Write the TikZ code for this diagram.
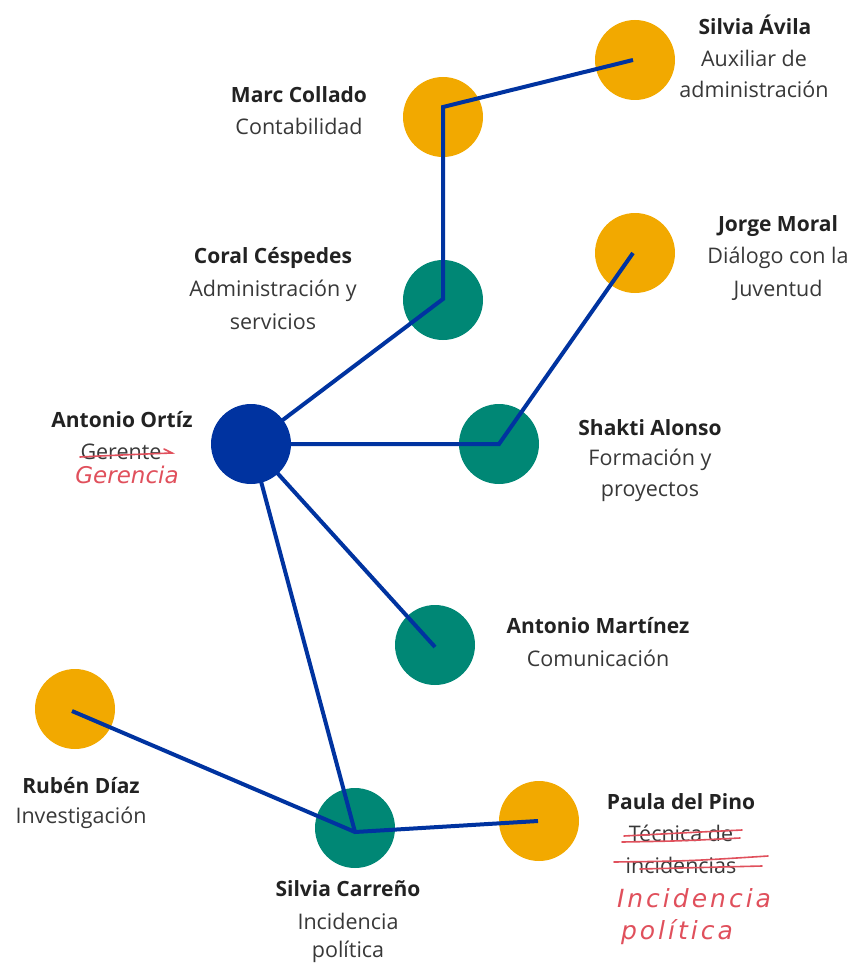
\documentclass[tikz,border=0pt]{standalone}
\usepackage{fontspec}
\setmainfont{Open Sans}
\newfontfamily\handfont{DejaVu Sans}
\newfontfamily\handwide{DejaVu Sans}[LetterSpace=12]
\definecolor{orgO}{HTML}{F2A900}
\definecolor{orgT}{HTML}{008775}
\definecolor{orgB}{HTML}{0033A0}
\definecolor{txt}{HTML}{222222}
\definecolor{hand}{HTML}{E0505C}
\tikzset{
  bub/.style={circle,minimum size=80pt,inner sep=0pt,draw=none},
  orangebub/.style={bub,fill=orgO},
  tealbub/.style={bub,fill=orgT},
  bluebub/.style={bub,fill=orgB},
  link/.style={draw=orgB,line width=4pt,line join=miter},
  nm/.style={font=\bfseries\fontsize{21}{24}\selectfont,text=txt,inner sep=0pt},
  rl/.style={font=\fontsize{21.5}{24}\selectfont,text=txt!90,inner sep=0pt},
  hw/.style={font=\handfont\itshape\fontsize{23}{24}\selectfont,text=hand,inner sep=0pt},
  hww/.style={font=\handwide\itshape\fontsize{25}{24}\selectfont,text=hand,inner sep=0pt},
  strike/.style={draw=hand,line width=1.6pt,line cap=round}
}
\begin{document}
\begin{tikzpicture}[x=1pt,y=-1pt]
\useasboundingbox (0,0) rectangle (854,963);
% bubbles
\node[orangebub] (avila) at (635,60) {};
\node[orangebub] (collado) at (443,117) {};
\node[tealbub] (cespedes) at (443,300) {};
\node[orangebub] (moral) at (635,253) {};
\node[tealbub] (alonso) at (499,444) {};
\node[tealbub] (martinez) at (435,645) {};
\node[orangebub] (diaz) at (75,709) {};
\node[tealbub] (carreno) at (355,828) {};
\node[orangebub] (pino) at (539,821) {};
% connector points
\coordinate (pAvila) at (633,60);
\coordinate (pCollado) at (443,107);
\coordinate (pCespedes) at (443,299);
\coordinate (pAlonso) at (499,444);
\coordinate (pMoral) at (633,253);
\coordinate (pMartinez) at (435,647);
\coordinate (pDiaz) at (72,711);
\coordinate (pCarreno) at (355,832);
\coordinate (pPino) at (538,821);
\coordinate (pOrtiz) at (251,444);
% links
\draw[link] (pAvila) -- (pCollado) -- (pCespedes) -- (pOrtiz);
\draw[link] (pOrtiz) -- (pAlonso) -- (pMoral);
\draw[link] (pOrtiz) -- (pMartinez);
\draw[link] (pOrtiz) -- (pCarreno);
\draw[link] (pDiaz) -- (pCarreno) -- (pPino);
\node[bluebub] (ortiz) at (251,444) {};
% labels
\node[nm] (tAvila1) at (755,25) {Silvia Ávila};
\node[rl] (tAvila2) at (754,58) {Auxiliar de};
\node[rl] (tAvila3) at (754,89) {administración};
\node[nm] (tCollado1) at (299,95) {Marc Collado};
\node[rl] (tCollado2) at (299,126) {Contabilidad};
\node[nm] (tCespedes1) at (273,258) {Coral Céspedes};
\node[rl] (tCespedes2) at (273,291) {Administración y};
\node[rl] (tCespedes3) at (273,322) {servicios};
\node[nm] (tMoral1) at (778,226) {Jorge Moral};
\node[rl] (tMoral2) at (778,258) {Diálogo con la};
\node[rl] (tMoral3) at (778,290) {Juventud};
\node[nm] (tOrtiz1) at (122,420) {Antonio Ortíz};
\node[rl] (tOrtiz2) at (121,452) {Gerente};
\node[hw] (tOrtiz3) at (127,475) {Gerencia};
\node[nm] (tAlonso1) at (650,428) {Shakti Alonso};
\node[rl] (tAlonso2) at (650,460) {Formación y};
\node[rl] (tAlonso3) at (650,492) {proyectos};
\node[nm] (tMartinez1) at (598,626) {Antonio Martínez};
\node[rl] (tMartinez2) at (598,658) {Comunicación};
\node[nm] (tDiaz1) at (81,786) {Rubén Díaz};
\node[rl] (tDiaz2) at (81,818) {Investigación};
\node[nm] (tCarreno1) at (348,889) {Silvia Carreño};
\node[rl] (tCarreno2) at (348,921) {Incidencia};
\node[rl] (tCarreno3) at (348,952) {política};
\node[nm] (tPino1) at (681,802) {Paula del Pino};
\node[rl] (tPino2) at (681,833) {Técnica de};
\node[rl] (tPino3) at (681,865) {incidencias};
\node[hww] (tPino4) at (694,898) {Incidencia};
\node[hww] (tPino5) at (677,932) {política};
% strike-throughs
\draw[strike] (80,457) .. controls (120,455) .. (172,453) -- (164,449);
\draw[strike] (624,836) .. controls (680,833) .. (742,830);
\draw[strike] (622,842) .. controls (680,841) .. (740,838);
\draw[strike] (614,862) .. controls (690,861) .. (768,856);
\draw[strike] (640,869) -- (762,866);
\end{tikzpicture}
\end{document}
